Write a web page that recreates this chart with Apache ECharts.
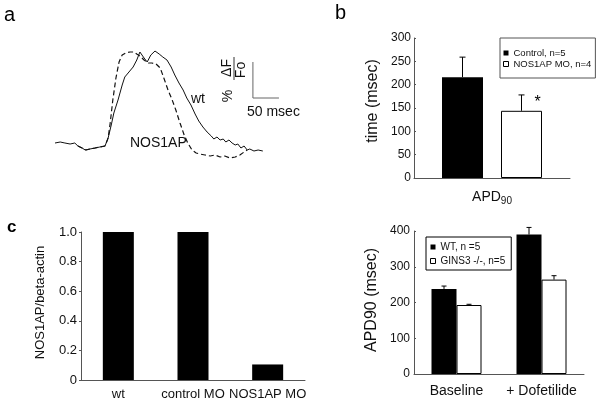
<!DOCTYPE html>
<html>
<head>
<meta charset="utf-8">
<script src="https://cdn.jsdelivr.net/npm/echarts@6/dist/echarts.min.js"></script>
<style>html,body{margin:0;padding:0;background:#fff;}#c{width:600px;height:402px;}</style>
</head>
<body>
<div id="c"></div>
<script>
// ---- Panel a: fluorescence traces (time in msec, relative fluorescence units) ----
const wtTime = [0,10,19,29,38,44,52,58,67,77,86,96,102,108,113,121,129,134,142,150,157,163,171,177,184,192,200,207,215,223,230,238,246,253,261,269,276,284,292,300,305,311,317,323,328,334,340,346,351,357,363,369,374,382,390,399];
const wtValue = [22,23,22,21,22,19,17,15,16,17,18,19,27,40,52,65,80,88,93,98,105,113,107,103,110,114,111,108,105,98,90,82,75,67,60,51,44,38,33,29,26,28,25,26,23,25,22,20,21,17,19,15,16,14,15,14];
const nosTime = [44,52,60,67,77,86,96,102,106,111,117,123,129,136,144,152,157,163,171,179,186,194,202,209,217,225,232,240,248,255,263,271,278,288,298,307,317,326,336,346,355,363,369];
const nosValue = [19,17,15,16,17,18,19,27,42,65,87,103,110,112,113,113,111,109,105,102,102,101,97,87,75,65,55,42,30,22,15,12,11,10,9,10,8,9,7,8,10,13,15];
const scaleBarMsec = 50;
const scaleBarStart = [380, 67];
const scaleBarHeight = 36;

// ---- Panel b ----
const bCategories = ['APD90'];
const bControl = [216];
const bControlErr = [43];
const bNos = [144];
const bNosErr = [34];
const bNosSig = ['*'];
const bTicks = [0, 50, 100, 150, 200, 250, 300];

// ---- Panel c ----
const cCategories = ['wt', 'control MO', 'NOS1AP MO'];
const cValues = [1.0, 1.0, 0.105];
const cTicks = [0, 0.2, 0.4, 0.6, 0.8, 1.0];

// ---- Panel d ----
const dCategories = ['Baseline', '+ Dofetilide'];
const dWT = [238, 390];
const dWTErr = [8, 20];
const dGins = [193, 264];
const dGinsErr = [2, 11];
const dTicks = [0, 100, 200, 300, 400];

const FF = 'Liberation Sans, Arial, sans-serif';
const TXT = '#111';
const AX = '#555';

function zip(a, b) { return a.map((v, i) => [v, b[i]]); }

function errSeries(xi, yi, means, errs, offset, capW, marks) {
  return {
    type: 'custom', xAxisIndex: xi, yAxisIndex: yi, silent: true, z: 5,
    data: means.map((m, i) => [i, m, m + errs[i]]),
    renderItem: function (params, api) {
      const i = api.value(0);
      const base = api.coord([i, api.value(1)]);
      const top = api.coord([i, api.value(2)]);
      const x = base[0] + offset;
      const children = [
        {type: 'line', shape: {x1: x, y1: base[1], x2: x, y2: top[1]}, style: {stroke: '#000', lineWidth: 1}},
        {type: 'line', shape: {x1: x - capW / 2, y1: top[1], x2: x + capW / 2, y2: top[1]}, style: {stroke: '#000', lineWidth: 1}}
      ];
      if (marks && marks[i]) {
        children.push({type: 'text', x: x + 16, y: top[1] + 8, style: {text: marks[i], fill: '#000', font: '16px ' + FF, align: 'center', verticalAlign: 'middle'}});
      }
      return {type: 'group', children: children};
    }
  };
}

const chart = echarts.init(document.getElementById('c'), null, {renderer: 'canvas'});

const bBarW = 41, bGap = 18;
const dBarW = 25;

const option = {
  animation: false,
  backgroundColor: '#fff',
  textStyle: {fontFamily: FF, color: TXT},
  grid: [
    {left: 55, top: 45, width: 250, height: 120},
    {left: 414, top: 38, width: 156, height: 140},
    {left: 81, top: 232, width: 224, height: 148},
    {left: 414, top: 231, width: 170, height: 143}
  ],
  xAxis: [
    {gridIndex: 0, type: 'value', min: 0, max: 480, show: false},
    {gridIndex: 1, type: 'category', data: bCategories,
     axisLine: {lineStyle: {color: AX}}, axisTick: {show: false},
     axisLabel: {margin: 10, color: TXT, interval: 0, formatter: function (v) { return '{m|APD}{s|90}'; },
       rich: {m: {fontSize: 14, fontFamily: FF, color: TXT, verticalAlign: 'middle'},
              s: {fontSize: 10, fontFamily: FF, color: TXT, padding: [8, 0, 0, 0], verticalAlign: 'middle'}}}},
    {gridIndex: 2, type: 'category', data: cCategories,
     axisLine: {lineStyle: {color: AX}}, axisTick: {show: false},
     axisLabel: {margin: 8, fontSize: 13, color: TXT, fontFamily: FF, interval: 0}},
    {gridIndex: 3, type: 'category', data: dCategories,
     axisLine: {lineStyle: {color: AX}}, axisTick: {show: false},
     axisLabel: {margin: 10, fontSize: 14, color: TXT, fontFamily: FF, interval: 0}}
  ],
  yAxis: [
    {gridIndex: 0, type: 'value', min: 0, max: 120, show: false},
    {gridIndex: 1, type: 'value', min: bTicks[0], max: bTicks[bTicks.length - 1], interval: bTicks[1] - bTicks[0],
     name: 'time (msec)', nameLocation: 'middle', nameGap: 33,
     nameTextStyle: {fontSize: 16, color: TXT, fontFamily: FF, padding: [0, 0, 0, 14]},
     axisLine: {show: true, lineStyle: {color: AX}}, axisTick: {show: true, inside: true, length: 2, lineStyle: {color: AX}},
     splitLine: {show: false}, axisLabel: {fontSize: 12, color: TXT, margin: 3, fontFamily: FF}},
    {gridIndex: 2, type: 'value', min: cTicks[0], max: cTicks[cTicks.length - 1], interval: 0.2,
     name: 'NOS1AP/beta-actin', nameLocation: 'middle', nameGap: 34,
     nameTextStyle: {fontSize: 13, color: TXT, fontFamily: FF, padding: [0, 0, 0, 7]},
     axisLine: {show: true, lineStyle: {color: AX}}, axisTick: {show: true, length: 2, lineStyle: {color: AX}},
     splitLine: {show: false},
     axisLabel: {fontSize: 13, color: TXT, margin: 4, fontFamily: FF, formatter: function (v) { return v === 0 ? '0' : v.toFixed(1); }}},
    {gridIndex: 3, type: 'value', min: dTicks[0], max: dTicks[dTicks.length - 1], interval: dTicks[1] - dTicks[0],
     name: 'APD90 (msec)', nameLocation: 'middle', nameGap: 34,
     nameTextStyle: {fontSize: 16, color: TXT, fontFamily: FF, padding: [0, 0, 0, 5]},
     axisLine: {show: true, lineStyle: {color: AX}}, axisTick: {show: true, inside: true, length: 2, lineStyle: {color: AX}},
     splitLine: {show: false}, axisLabel: {fontSize: 12, color: TXT, margin: 4, fontFamily: FF}}
  ],
  legend: [
    {data: [{name: 'Control, n=5', itemStyle: {color: '#000'}},
            {name: 'NOS1AP MO, n=4', itemStyle: {color: '#fff', borderColor: '#000', borderWidth: 1}}],
     left: 500, top: 38, orient: 'vertical', icon: 'rect', itemWidth: 5, itemHeight: 5, itemGap: 1,
     padding: [10, 4, 9, 3], borderColor: AX, borderWidth: 1, selectedMode: false,
     textStyle: {fontSize: 9.5, lineHeight: 10, color: TXT, fontFamily: FF}},
    {data: [{name: 'WT, n =5', itemStyle: {color: '#000'}},
            {name: 'GINS3 -/-, n=5', itemStyle: {color: '#fff', borderColor: '#000', borderWidth: 1}}],
     left: 426, top: 237, orient: 'vertical', icon: 'rect', itemWidth: 5, itemHeight: 5, itemGap: 4,
     padding: [5, 6, 4, 4], borderColor: '#000', borderWidth: 1, selectedMode: false,
     textStyle: {fontSize: 10, lineHeight: 10, color: TXT, fontFamily: FF}}
  ],
  series: [
    {name: 'wt trace', type: 'line', xAxisIndex: 0, yAxisIndex: 0, data: zip(wtTime, wtValue),
     showSymbol: false, silent: true, lineStyle: {color: '#111', width: 1}},
    {name: 'NOS1AP trace', type: 'line', xAxisIndex: 0, yAxisIndex: 0, data: zip(nosTime, nosValue),
     showSymbol: false, silent: true, lineStyle: {color: '#111', width: 1.2, type: [5, 3]}},
    {name: 'scale bar', type: 'line', xAxisIndex: 0, yAxisIndex: 0, showSymbol: false, silent: true,
     data: [[scaleBarStart[0], scaleBarStart[1] + scaleBarHeight], scaleBarStart, [scaleBarStart[0] + scaleBarMsec, scaleBarStart[1]]],
     lineStyle: {color: '#666', width: 1}},

    {name: 'Control, n=5', type: 'bar', xAxisIndex: 1, yAxisIndex: 1, data: bControl,
     barWidth: bBarW, barGap: (bGap / bBarW * 100) + '%', itemStyle: {color: '#000'}},
    {name: 'NOS1AP MO, n=4', type: 'bar', xAxisIndex: 1, yAxisIndex: 1, data: bNos,
     barWidth: bBarW, itemStyle: {color: '#fff', borderColor: '#000', borderWidth: 1}},
    errSeries(1, 1, bControl, bControlErr, -(bBarW + bGap) / 2, 6, null),
    errSeries(1, 1, bNos, bNosErr, (bBarW + bGap) / 2, 6, bNosSig),

    {name: 'NOS1AP/beta-actin', type: 'bar', xAxisIndex: 2, yAxisIndex: 2, data: cValues,
     barWidth: 31, itemStyle: {color: '#000'}},

    {name: 'WT, n =5', type: 'bar', xAxisIndex: 3, yAxisIndex: 3, data: dWT,
     barWidth: dBarW, barGap: '0%', itemStyle: {color: '#000'}},
    {name: 'GINS3 -/-, n=5', type: 'bar', xAxisIndex: 3, yAxisIndex: 3, data: dGins,
     barWidth: dBarW, itemStyle: {color: '#fff', borderColor: '#000', borderWidth: 1}},
    errSeries(3, 3, dWT, dWTErr, -dBarW / 2, 5, null),
    errSeries(3, 3, dGins, dGinsErr, dBarW / 2, 5, null)
  ],
  graphic: [
    {type: 'text', left: 4, top: 5, style: {text: 'a', fill: '#000', font: '20px ' + FF}},
    {type: 'text', left: 335, top: 3, style: {text: 'b', fill: '#000', font: '20px ' + FF}},
    {type: 'text', left: 7, top: 219, style: {text: 'c', fill: '#000', font: 'bold 17px ' + FF}},
    {type: 'text', x: 198, y: 99, style: {text: 'wt', fill: TXT, font: '14px ' + FF, align: 'center', verticalAlign: 'middle'}},
    {type: 'text', x: 130, y: 143, style: {text: 'NOS1AP', fill: TXT, font: '14px ' + FF, align: 'left', verticalAlign: 'middle'}},
    {type: 'text', x: 247, y: 112, style: {text: '50 msec', fill: TXT, font: '14px ' + FF, align: 'left', verticalAlign: 'middle'}},
    {type: 'text', x: 228, y: 96, rotation: Math.PI / 2, style: {text: '%', fill: TXT, font: '14px ' + FF, align: 'center', verticalAlign: 'middle'}},
    {type: 'text', x: 227, y: 68, rotation: Math.PI / 2, style: {text: 'ΔF', fill: TXT, font: '14px ' + FF, align: 'center', verticalAlign: 'middle'}},
    {type: 'line', shape: {x1: 234, y1: 57, x2: 234, y2: 80}, style: {stroke: '#333', lineWidth: 1}},
    {type: 'text', x: 241, y: 70, rotation: Math.PI / 2, style: {text: 'Fo', fill: TXT, font: '14px ' + FF, align: 'center', verticalAlign: 'middle'}}
  ]
};
chart.setOption(option);
</script>
</body>
</html>
